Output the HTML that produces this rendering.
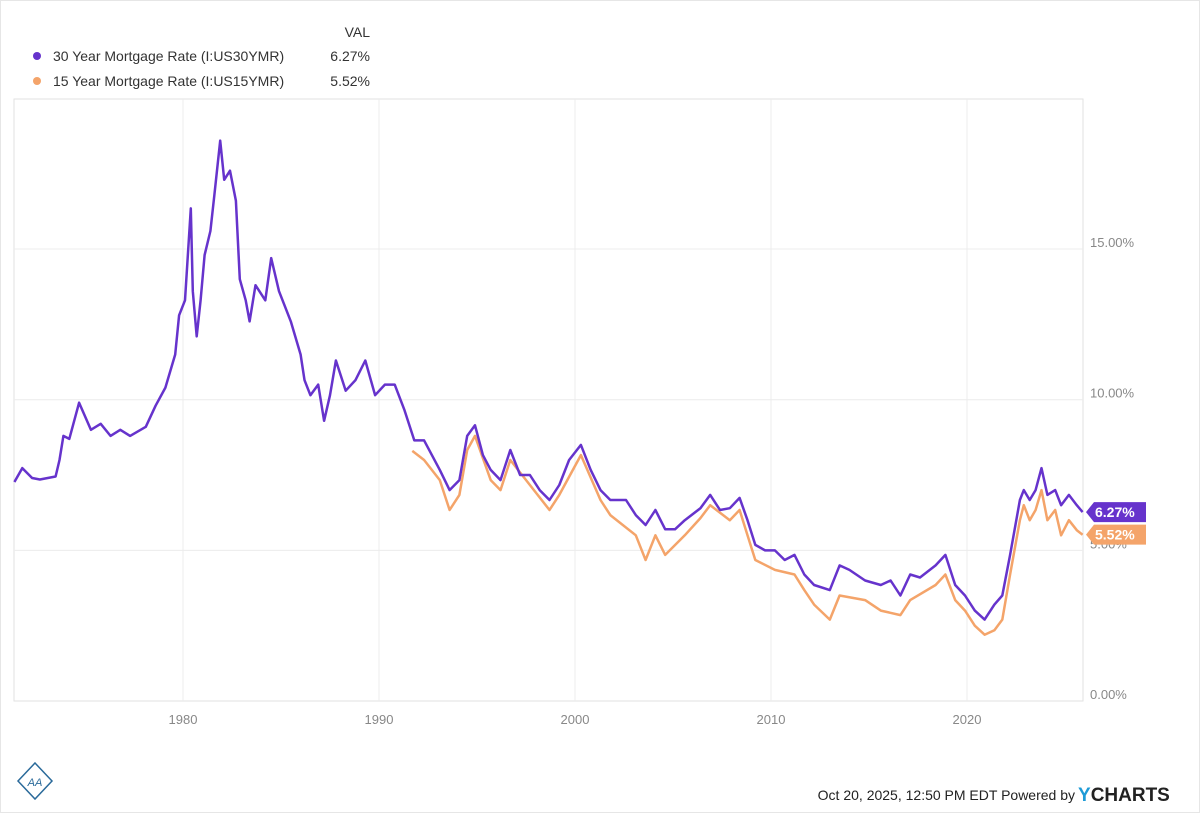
<!DOCTYPE html>
<html><head><meta charset="utf-8"><style>
body{margin:0;background:#fff;font-family:"Liberation Sans",sans-serif;}
svg{display:block}
</style></head><body>
<svg id="chart" width="1200" height="813">
<rect x="0.5" y="0.5" width="1199" height="812" fill="#fff" stroke="#e6e6e6"/>
<g id="grid"></g>
<g id="series"></g>
<g id="labels"></g>
<g>
<text x="370" y="37" text-anchor="end" font-size="14" fill="#333">VAL</text>
<circle cx="37" cy="56" r="4" fill="#6633cc"/>
<text x="53" y="61" font-size="14" fill="#333">30 Year Mortgage Rate (I:US30YMR)</text>
<text x="370" y="61" text-anchor="end" font-size="14" fill="#333">6.27%</text>
<circle cx="37" cy="81" r="4" fill="#f4a46a"/>
<text x="53" y="86" font-size="14" fill="#333">15 Year Mortgage Rate (I:US15YMR)</text>
<text x="370" y="86" text-anchor="end" font-size="14" fill="#333">5.52%</text>
</g>
<g>
<polygon points="35,763 52,781 35,799 18,781" fill="none" stroke="#2a6a9a" stroke-width="1.5"/>
<text x="35" y="786" text-anchor="middle" font-size="11" fill="#2a6a9a" font-style="italic">AA</text>
</g>
<text x="1075" y="800" text-anchor="end" font-size="14" fill="#222">Oct 20, 2025, 12:50 PM EDT Powered by</text>
<text x="1078" y="801" font-size="19" font-weight="bold" fill="#222"><tspan fill="#1e9bd7">Y</tspan>CHARTS</text>
</svg>
<script>
const years30=[1971.4,1971.8,1972.3,1972.7,1973.5,1973.7,1973.9,1974.2,1974.7,1975.3,1975.8,1976.3,1976.8,1977.3,1978.1,1978.6,1979.1,1979.6,1979.8,1980.1,1980.4,1980.5,1980.7,1980.9,1981.1,1981.4,1981.6,1981.9,1982.1,1982.4,1982.7,1982.9,1983.2,1983.4,1983.7,1984.2,1984.5,1984.9,1985.5,1986.0,1986.2,1986.5,1986.9,1987.2,1987.5,1987.8,1988.3,1988.8,1989.3,1989.8,1990.3,1990.8,1991.3,1991.8,1992.3,1993.1,1993.6,1994.1,1994.5,1994.9,1995.3,1995.7,1996.2,1996.7,1997.2,1997.7,1998.2,1998.7,1999.2,1999.7,2000.3,2000.8,2001.3,2001.8,2002.6,2003.1,2003.6,2004.1,2004.6,2005.1,2005.6,2006.4,2006.9,2007.4,2007.9,2008.4,2008.8,2009.2,2009.7,2010.2,2010.7,2011.2,2011.7,2012.2,2013.0,2013.5,2014.0,2014.8,2015.6,2016.1,2016.6,2017.1,2017.6,2018.4,2018.9,2019.4,2019.9,2020.4,2020.9,2021.4,2021.8,2022.2,2022.7,2022.9,2023.2,2023.5,2023.8,2024.1,2024.5,2024.8,2025.2,2025.6,2025.9];
const rate30=[7.27,7.73,7.4,7.35,7.45,8.0,8.8,8.7,9.9,9.0,9.2,8.8,9.0,8.8,9.1,9.8,10.4,11.5,12.8,13.3,16.35,13.6,12.1,13.3,14.8,15.6,16.8,18.6,17.3,17.6,16.6,14.0,13.3,12.6,13.8,13.3,14.7,13.6,12.6,11.5,10.65,10.15,10.5,9.3,10.15,11.3,10.3,10.65,11.3,10.15,10.5,10.5,9.65,8.65,8.65,7.67,7.0,7.33,8.8,9.15,8.16,7.67,7.33,8.33,7.5,7.5,7.0,6.67,7.17,8.0,8.5,7.67,7.0,6.67,6.67,6.17,5.84,6.34,5.7,5.7,6.0,6.4,6.84,6.34,6.4,6.74,6.0,5.18,5.0,5.0,4.68,4.85,4.2,3.85,3.68,4.5,4.35,4.0,3.85,4.0,3.5,4.2,4.1,4.5,4.85,3.85,3.5,3.0,2.7,3.2,3.5,4.85,6.67,7.0,6.67,7.0,7.73,6.84,7.0,6.5,6.84,6.5,6.27];
const years15=[1991.7,1992.3,1993.1,1993.6,1994.1,1994.5,1994.9,1995.7,1996.2,1996.7,1997.7,1998.7,1999.2,2000.3,2001.3,2001.8,2003.1,2003.6,2004.1,2004.6,2005.6,2006.4,2006.9,2007.9,2008.4,2008.8,2009.2,2010.2,2011.2,2011.7,2012.2,2013.0,2013.5,2014.8,2015.6,2016.6,2017.1,2018.4,2018.9,2019.4,2019.9,2020.4,2020.9,2021.4,2021.8,2022.2,2022.7,2022.9,2023.2,2023.5,2023.8,2024.1,2024.5,2024.8,2025.2,2025.6,2025.9];
const rate15=[8.3,8.0,7.33,6.34,6.84,8.33,8.8,7.33,7.0,8.0,7.17,6.34,6.84,8.16,6.67,6.17,5.5,4.68,5.5,4.85,5.5,6.07,6.5,6.0,6.34,5.5,4.68,4.35,4.2,3.68,3.2,2.7,3.5,3.35,3.0,2.85,3.35,3.85,4.2,3.35,3.0,2.5,2.2,2.35,2.7,4.2,6.0,6.5,6.0,6.34,7.0,6.0,6.34,5.5,6.0,5.67,5.52];
const yTicks=[0,5,10,15];
const yTickLabels=["0.00%","5.00%","10.00%","15.00%"];
const xTicks=[1980,1990,2000,2010,2020];
const last30="6.27%", last15="5.52%";

const NS="http://www.w3.org/2000/svg";
const L=14,R=1083,T=99,B=701;
const x=yr=>183+(yr-1980)*19.6;
const y=v=>B-v*30.13;
function mk(tag,attrs,parent){const e=document.createElementNS(NS,tag);for(const k in attrs)e.setAttribute(k,attrs[k]);parent.appendChild(e);return e;}
const grid=document.getElementById('grid'),ser=document.getElementById('series'),lab=document.getElementById('labels');
let box=mk('rect',{x:L,y:T,width:R-L,height:B-T,fill:'none',stroke:'#e2e2e2'},grid);


yTicks.forEach((v,i)=>{
 if(v>0){let g=mk('line',{x1:L,x2:R,y1:y(v),y2:y(v),stroke:'#ececec'},grid);
 
 }
 let t=mk('text',{x:1090,y:y(v)-2,'font-size':13,fill:'#888'},lab);t.textContent=yTickLabels[i];
 
 
});
xTicks.forEach(v=>{
 let g=mk('line',{x1:x(v),x2:x(v),y1:T,y2:B,stroke:'#ececec'},grid);
 
 
 let t=mk('text',{x:x(v),y:724,'font-size':13,fill:'#888','text-anchor':'middle'},lab);t.textContent=v;
 
 
});
function line(ys,vs,color,name){
 const d=ys.map((yr,i)=>(i?'L':'M')+x(yr).toFixed(1)+','+y(vs[i]).toFixed(1)).join('');
 let p=mk('path',{d:d,fill:'none',stroke:color,'stroke-width':2.5,'stroke-linejoin':'round'},ser);
 
 
}
line(years15,rate15,'#f4a46a','line-15yr');
line(years30,rate30,'#6633cc','line-30yr');
function tag(v,txt,color,name){
 const cy=y(v),g=mk('g',{},lab);
 
 
 mk('polygon',{points:`1086,${cy} 1094,${cy-10} 1146,${cy-10} 1146,${cy+10} 1094,${cy+10}`,fill:color},g);
 let t=mk('text',{x:1095,y:cy+5,'font-size':14,'font-weight':'bold',fill:'#fff'},g);t.textContent=txt;
}
tag(6.27,last30,'#6633cc','last-value-tag-30yr');
tag(5.52,last15,'#f4a46a','last-value-tag-15yr');
</script>
</body></html>
